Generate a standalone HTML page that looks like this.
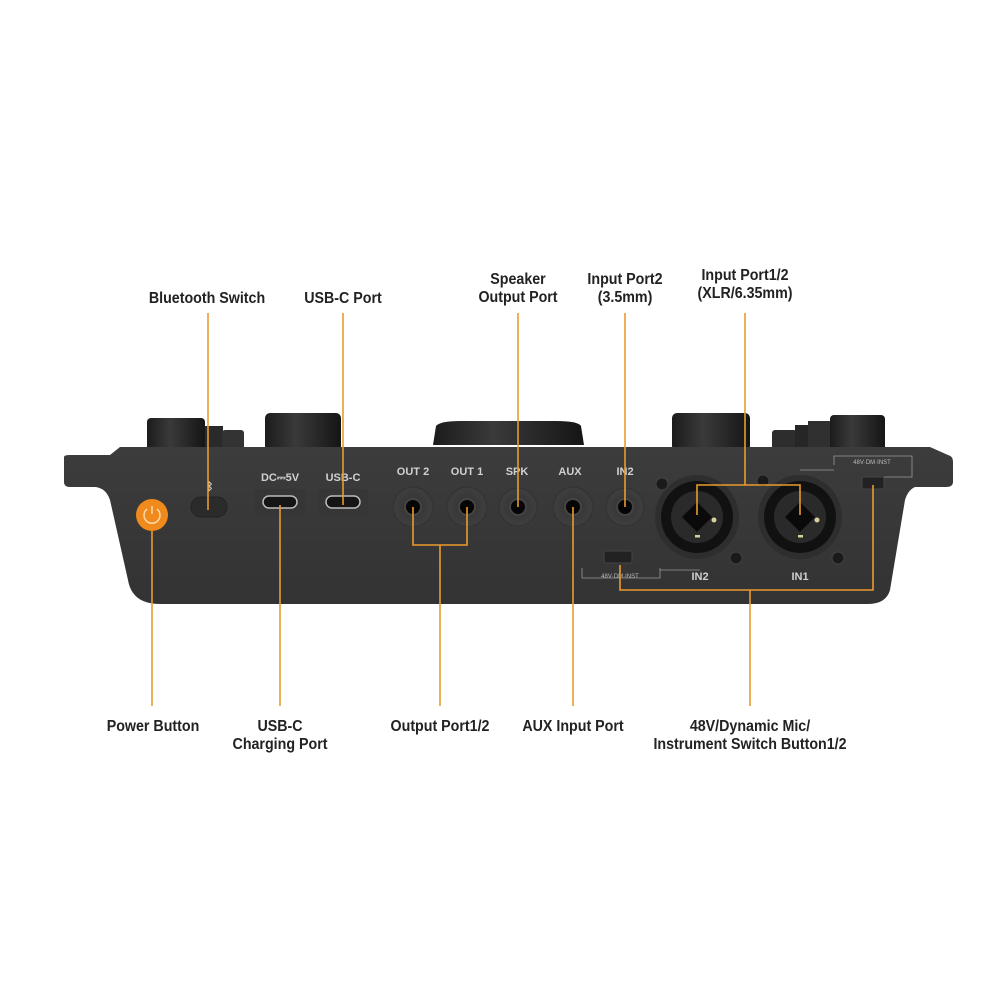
<!DOCTYPE html>
<html><head><meta charset="utf-8"><style>
html,body{margin:0;padding:0;background:#fff;width:1000px;height:1000px;overflow:hidden}
svg{display:block}
.l{font-family:"Liberation Sans",sans-serif;font-weight:bold;font-size:15.5px;fill:#222;text-anchor:middle}
.p{font-family:"Liberation Sans",sans-serif;font-weight:bold;font-size:11px;fill:#d0d0d0;text-anchor:middle}
.s{font-family:"Liberation Sans",sans-serif;font-size:6px;fill:#bbb;text-anchor:middle}
.o{stroke:#eb9a2e;stroke-width:1.6;fill:none}
</style></head><body>
<svg width="1000" height="1000" viewBox="0 0 1000 1000">
<defs>
<linearGradient id="k" x1="0" x2="1"><stop offset="0" stop-color="#1c1c1c"/><stop offset=".4" stop-color="#3a3a3a"/><stop offset="1" stop-color="#151515"/></linearGradient>
<linearGradient id="b" x1="0" y1="0" x2="0" y2="1"><stop offset="0" stop-color="#3c3c3c"/><stop offset="1" stop-color="#333"/></linearGradient>
<radialGradient id="j"><stop offset=".5" stop-color="#383838"/><stop offset=".9" stop-color="#3e3e3e"/><stop offset="1" stop-color="#383838"/></radialGradient>
</defs>
<rect x="147" y="418" width="58" height="34" rx="4" fill="url(#k)"/>
<rect x="205" y="426" width="18" height="26" fill="#2a2a2a"/>
<rect x="222" y="430" width="22" height="20" rx="3" fill="#333"/>
<rect x="265" y="413" width="76" height="38" rx="5" fill="url(#k)"/>
<path d="M433,445 L436,426 Q440,421 460,421 L556,421 Q578,421 581,426 L584,445 Z" fill="url(#k)"/>
<rect x="672" y="413" width="78" height="38" rx="5" fill="url(#k)"/>
<rect x="772" y="430" width="25" height="20" rx="3" fill="#2d2d2d"/>
<rect x="795" y="425" width="15" height="25" fill="#262626"/>
<rect x="808" y="421" width="22" height="30" fill="#303030"/>
<rect x="830" y="415" width="55" height="36" rx="4" fill="url(#k)"/>
<path d="M64,457 Q64,455 70,455 L110,455 L120,447 L930,447 L948,455 Q953,456 953,462 L953,482 Q953,487 946,487 L915,487 Q908,490 905,500 L890,590 Q886,604 868,604 L160,604 Q132,604 128,580 L110,500 Q106,488 95,487 L70,487 Q64,487 64,482 Z" fill="url(#b)"/>
<circle cx="152" cy="515" r="16" fill="#f08a1c"/>
<path d="M147,509 A8,8 0 1 0 157,509" stroke="#ffd9a8" stroke-width="1.5" fill="none"/>
<line x1="152" y1="506" x2="152" y2="514" stroke="#ffd9a8" stroke-width="1.5"/>
<rect x="191" y="497" width="36" height="20" rx="10" fill="#2b2b2b" stroke="#222"/>
<text x="210" y="490" class="p" font-size="9">ᛒ</text>
<text x="280" y="481" class="p">DC⎓5V</text>
<text x="343" y="481" class="p">USB-C</text>
<rect x="255" y="489" width="50" height="26" rx="3" fill="#363636"/>
<rect x="318" y="489" width="50" height="26" rx="3" fill="#363636"/>
<rect x="263" y="496" width="34" height="12" rx="6" fill="#151515" stroke="#bbb" stroke-width="1.5"/>
<rect x="326" y="496" width="34" height="12" rx="6" fill="#151515" stroke="#bbb" stroke-width="1.5"/>
<text x="413" y="475" class="p">OUT 2</text>
<text x="467" y="475" class="p">OUT 1</text>
<text x="517" y="475" class="p">SPK</text>
<text x="570" y="475" class="p">AUX</text>
<text x="625" y="475" class="p">IN2</text>
<g fill="url(#j)" stroke="#333" stroke-width="1"><circle cx="413" cy="507" r="20"/><circle cx="467" cy="507" r="20"/><circle cx="518" cy="507" r="19"/><circle cx="573" cy="507" r="20"/><circle cx="625" cy="507" r="19"/></g>
<g fill="#050505" stroke="#444" stroke-width="2"><circle cx="413" cy="507" r="8"/><circle cx="467" cy="507" r="8"/><circle cx="518" cy="507" r="8"/><circle cx="573" cy="507" r="8"/><circle cx="625" cy="507" r="8"/></g>
<g><circle cx="697" cy="517" r="42" fill="#2e2e2e"/><circle cx="697" cy="517" r="36" fill="#111"/><circle cx="697" cy="517" r="26" fill="#2a2a2a"/><path d="M697,502 L712,517 L697,532 L682,517Z" fill="#0a0a0a"/><circle cx="714" cy="520" r="2.5" fill="#d8d09a"/><rect x="695" y="535" width="5" height="2.5" fill="#d8d09a"/></g>
<g><circle cx="800" cy="517" r="42" fill="#2e2e2e"/><circle cx="800" cy="517" r="36" fill="#111"/><circle cx="800" cy="517" r="26" fill="#2a2a2a"/><path d="M800,502 L815,517 L800,532 L785,517Z" fill="#0a0a0a"/><circle cx="817" cy="520" r="2.5" fill="#d8d09a"/><rect x="798" y="535" width="5" height="2.5" fill="#d8d09a"/></g>
<g fill="#1a1a1a" stroke="#444"><circle cx="662" cy="484" r="6"/><circle cx="763" cy="481" r="6"/><circle cx="736" cy="558" r="6"/><circle cx="838" cy="558" r="6"/></g>
<text x="700" y="580" class="p">IN2</text>
<text x="800" y="580" class="p">IN1</text>
<rect x="604" y="551" width="28" height="12" rx="2" fill="#222" stroke="#444"/>
<path d="M582,568 L582,578 L660,578 L660,568 M660,570 L700,570" stroke="#999" stroke-width=".8" fill="none"/>
<text x="620" y="578" class="s" fill="#ccc">48V·DM·INST</text>
<rect x="862" y="477" width="22" height="12" rx="2" fill="#222" stroke="#444"/>
<path d="M834,465 L834,456 L912,456 L912,477 L884,477 M834,470 L800,470" stroke="#999" stroke-width=".8" fill="none"/>
<text x="872" y="464" class="s" fill="#ccc">48V·DM·INST</text>
<line class="o" x1="208" y1="313" x2="208" y2="510"/>
<line class="o" x1="343" y1="313" x2="343" y2="505"/>
<line class="o" x1="518" y1="313" x2="518" y2="507"/>
<line class="o" x1="625" y1="313" x2="625" y2="507"/>
<path class="o" d="M745,313 L745,485 M697,515 L697,485 L800,485 L800,515"/>
<line class="o" x1="152" y1="531" x2="152" y2="706"/>
<line class="o" x1="280" y1="505" x2="280" y2="706"/>
<path class="o" d="M413,507 L413,545 L467,545 L467,507 M440,545 L440,706"/>
<line class="o" x1="573" y1="507" x2="573" y2="706"/>
<path class="o" d="M620,565 L620,590 L873,590 L873,485 M750,590 L750,706"/>
<text class="l" transform="translate(207,303) scale(.92,1)">Bluetooth Switch</text>
<text class="l" transform="translate(343,303) scale(.92,1)">USB-C Port</text>
<text class="l" transform="translate(518,284) scale(.92,1)">Speaker</text>
<text class="l" transform="translate(518,302) scale(.92,1)">Output Port</text>
<text class="l" transform="translate(625,284) scale(.92,1)">Input Port2</text>
<text class="l" transform="translate(625,302) scale(.92,1)">(3.5mm)</text>
<text class="l" transform="translate(745,280) scale(.92,1)">Input Port1/2</text>
<text class="l" transform="translate(745,298) scale(.92,1)">(XLR/6.35mm)</text>
<text class="l" transform="translate(153,731) scale(.92,1)">Power Button</text>
<text class="l" transform="translate(280,731) scale(.92,1)">USB-C</text>
<text class="l" transform="translate(280,749) scale(.92,1)">Charging Port</text>
<text class="l" transform="translate(440,731) scale(.92,1)">Output Port1/2</text>
<text class="l" transform="translate(573,731) scale(.92,1)">AUX Input Port</text>
<text class="l" transform="translate(750,731) scale(.92,1)">48V/Dynamic Mic/</text>
<text class="l" transform="translate(750,749) scale(.92,1)">Instrument Switch Button1/2</text>
</svg>
</body></html>
